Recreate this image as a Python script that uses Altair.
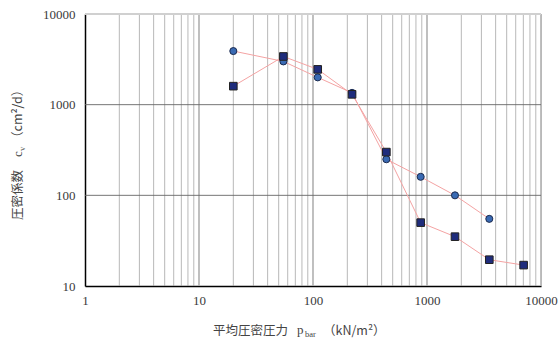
import altair as alt
import pandas as pd

# ---- data ----
p_circle = [20, 55, 110, 220, 440, 880, 1760, 3520]
cv_circle = [3900, 3000, 2000, 1350, 250, 160, 100, 55]
p_square = [20, 55, 110, 220, 440, 880, 1760, 3520, 7040]
cv_square = [1600, 3400, 2450, 1300, 300, 50, 35, 19.5, 17]

x_ticks = [1, 10, 100, 1000, 10000]
y_ticks = [10, 100, 1000, 10000]
x_minor = [m * d for d in [1, 10, 100, 1000] for m in range(2, 10)]
x_major = [10, 100, 1000, 10000]
y_major = [100, 1000]
y_top = [10000]

W, H = 456, 272
xs = alt.Scale(type="log", domain=[1, 10000])
ys = alt.Scale(type="log", domain=[10, 10000])

circ = pd.DataFrame({"p": p_circle, "cv": cv_circle, "order": range(len(p_circle))})
sq = pd.DataFrame({"p": p_square, "cv": cv_square, "order": range(len(p_square))})

xaxis = alt.Axis(values=x_ticks, format="d", grid=False, ticks=False, domainColor="black",
                 domainWidth=1.5, labelFont="Liberation Serif", labelFontSize=13,
                 labelColor="#3a3a3a", labelPadding=8, title=None, labelFlush=False)
yaxis = alt.Axis(values=y_ticks, format="d", grid=False, ticks=False, domainColor="black",
                 domainWidth=1.5, labelFont="Liberation Serif", labelFontSize=13,
                 labelColor="#3a3a3a", labelPadding=10, title=None)

minor_v = alt.Chart(pd.DataFrame({"x": x_minor})).mark_rule(color="#999999", strokeWidth=0.7).encode(
    x=alt.X("x:Q", scale=xs, axis=xaxis))
major_v = alt.Chart(pd.DataFrame({"x": x_major})).mark_rule(color="#b0b0b0", strokeWidth=1.6).encode(
    x=alt.X("x:Q", scale=xs))
major_h = alt.Chart(pd.DataFrame({"y": y_major})).mark_rule(color="#666", strokeWidth=0.9).encode(
    y=alt.Y("y:Q", scale=ys, axis=yaxis))
top_h = alt.Chart(pd.DataFrame({"y": y_top})).mark_rule(color="#d0d0d0", strokeWidth=2).encode(
    y=alt.Y("y:Q", scale=ys))

line_c = alt.Chart(circ).mark_line(color="#f4a3a3", strokeWidth=1).encode(
    x=alt.X("p:Q", scale=xs), y=alt.Y("cv:Q", scale=ys), order="order:Q")
line_s = alt.Chart(sq).mark_line(color="#f4a3a3", strokeWidth=1).encode(
    x=alt.X("p:Q", scale=xs), y=alt.Y("cv:Q", scale=ys), order="order:Q")
pts_c = alt.Chart(circ).mark_point(shape="circle", filled=True, fill="#3a6ab3", stroke="#1b2a4e",
                                   strokeWidth=1, opacity=1, size=50).encode(
    x=alt.X("p:Q", scale=xs), y=alt.Y("cv:Q", scale=ys))
pts_s = alt.Chart(sq).mark_point(shape="square", filled=True, fill="#1f2c7c", stroke="#222",
                                 strokeWidth=1, opacity=1, size=58).encode(
    x=alt.X("p:Q", scale=xs), y=alt.Y("cv:Q", scale=ys))

one = pd.DataFrame({"a": [0]})
def txt(s, x, y, size=13, font="Noto Sans CJK JP", angle=0, baseline="middle"):
    return alt.Chart(one).mark_text(text=s, font=font, fontSize=size, color="#444", align="left",
                                    baseline=baseline, angle=angle).encode(
        x=alt.value(x), y=alt.value(y))

titles = [
    # x title
    txt("平均圧密圧力", 128, 317, 12.5),
    txt("p", 212, 316, 13, "Liberation Serif"),
    txt("bar", 220, 320, 8.5, "Liberation Serif"),
    txt("（kN/m²）", 238, 317, 12.5),
    # y title (rotated)
    txt("圧密係数", -67, 206, 12.5, angle=270),
    txt("c", -67, 143, 13, "Liberation Serif", angle=270),
    txt("v", -63, 137, 8.5, "Liberation Serif", angle=270),
    txt("（cm²/d）", -67, 130, 12.5, angle=270),
]

chart = alt.layer(minor_v, major_v, major_h, top_h, line_c, line_s, pts_c, pts_s, *titles).properties(
    width=W, height=H,
    autosize=alt.AutoSizeParams(type="none"),
    padding={"left": 85, "top": 14, "right": 17, "bottom": 57},
).configure_view(stroke=None).configure(background="white")

chart.save("out.html", embed_options={"renderer": "svg", "actions": False})
